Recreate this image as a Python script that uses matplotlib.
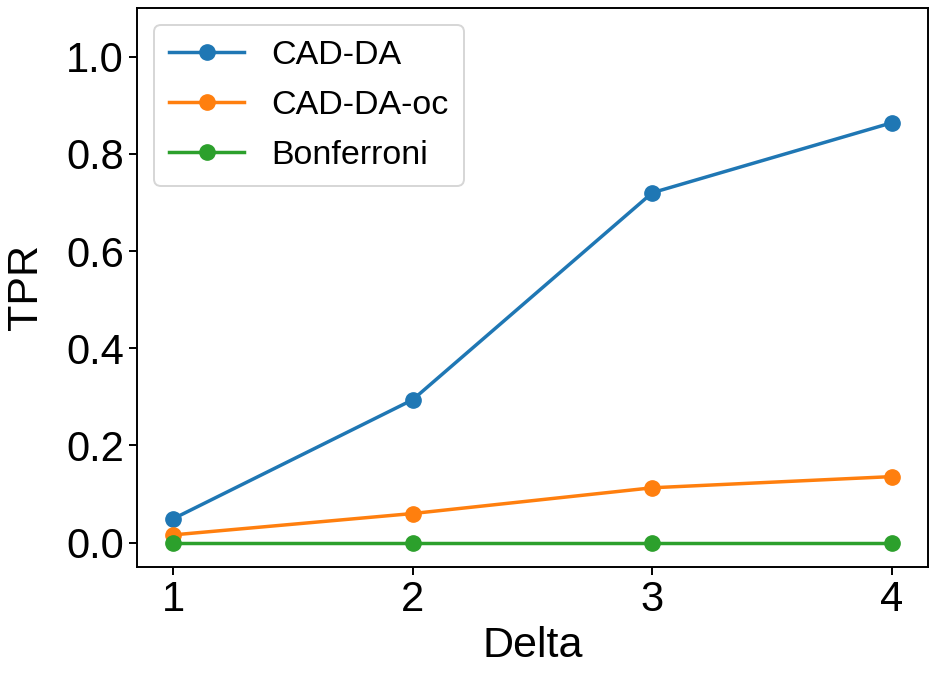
import matplotlib
matplotlib.use("Agg")
import matplotlib.pyplot as plt

plt.rcParams['font.family'] = ['Liberation Sans', 'DejaVu Sans']

delta = [1, 2, 3, 4]
cad_da = [0.049, 0.294, 0.720, 0.864]
cad_da_oc = [0.016, 0.060, 0.113, 0.136]
bonferroni = [0.0, 0.0, 0.0, 0.0]

fig = plt.figure(figsize=(9.35, 6.74), dpi=100)
ax = fig.add_axes([137/935, 1-567/674, (928-137)/935, (567-8)/674])

ax.plot(delta, cad_da, marker='o', color='#1f77b4', lw=2.5, ms=11, label='CAD-DA')
ax.plot(delta, cad_da_oc, marker='o', color='#ff7f0e', lw=2.5, ms=11, label='CAD-DA-oc')
ax.plot(delta, bonferroni, marker='o', color='#2ca02c', lw=2.5, ms=11, label='Bonferroni')

ax.set_ylim(-0.05, 1.1)
ax.set_xticks(delta)
ax.set_yticks([0.0, 0.2, 0.4, 0.6, 0.8, 1.0])
ax.tick_params(labelsize=30, width=1.4, length=6)
for s in ax.spines.values():
    s.set_linewidth(1.4)
ax.set_xlabel('Delta', fontsize=31, labelpad=4)
ax.set_ylabel('TPR', fontsize=31, labelpad=14)
leg = ax.legend(fontsize=24.5, loc='upper left', borderpad=0.45,
                handlelength=2.2, handletextpad=0.8, labelspacing=0.55)
leg.get_frame().set_linewidth(1.4)

fig.savefig('out.png', dpi=100)
